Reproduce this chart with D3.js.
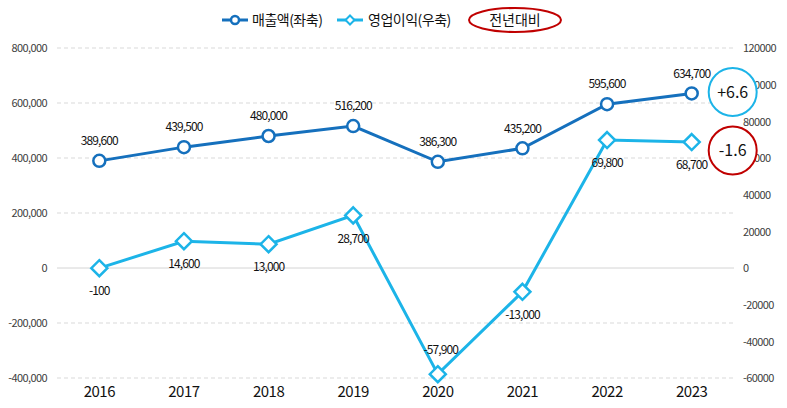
<!DOCTYPE html>
<html><head><meta charset="utf-8">
<script src="https://cdn.jsdelivr.net/npm/d3@7/dist/d3.min.js"></script>
<style>
body{margin:0;background:#fff;}
text{font-family:"Noto Sans CJK KR","Noto Sans",sans-serif;}
</style></head>
<body><svg id="c" width="787" height="408"></svg>
<script>
const years = ["2016","2017","2018","2019","2020","2021","2022","2023"];
const sales = [389600, 439500, 480000, 516200, 386300, 435200, 595600, 634700];
const profit = [-100, 14600, 13000, 28700, -57900, -13000, 69800, 68700];
const leftTicks = [-400000, -200000, 0, 200000, 400000, 600000, 800000];
const rightTicks = [-60000, -40000, -20000, 0, 20000, 40000, 60000, 80000, 100000, 120000];
const salesChange = "+6.6";
const profitChange = "-1.6";
const legendLabels = ["매출액(좌축)", "영업이익(우축)", "전년대비"];

const C1 = "#1570BD", C2 = "#1CB4E8", RED = "#C00000";
const svg = d3.select("#c");
const L = 57, R = 734, T = 48, B = 378;
const x = d3.scaleBand().domain(years).range([L, R]);
const yL = d3.scaleLinear().domain([-400000, 800000]).range([B, T]);
const yR = d3.scaleLinear().domain([-60000, 120000]).range([B, T]);
const cx = d => x(d) + x.bandwidth()/2;
const loc = d3.formatLocale({decimal:".", thousands:",", grouping:[3], currency:["",""], minus:"-"});
const fmt = loc.format(",");
const fmtR = loc.format("d");

// grid
svg.append("g").selectAll("line").data(leftTicks).join("line")
  .attr("x1", L).attr("x2", R).attr("y1", d=>yL(d)).attr("y2", d=>yL(d))
  .attr("stroke", d=>d===0?"#d4d4d4":"#d9d9d9").attr("stroke-width",1)
  .attr("stroke-dasharray", d=>d===0?null:"4,3");

// left axis
const la = svg.append("g").attr("transform",`translate(${L-10},0)`)
  .call(d3.axisLeft(yL).tickValues(leftTicks).tickFormat(fmt).tickSize(0).tickPadding(0));
la.select(".domain").remove();
la.selectAll("text").attr("font-size",11).attr("fill","#404040").attr("letter-spacing","-0.6").attr("dy","0.35em");

// right axis
const ra = svg.append("g").attr("transform",`translate(${R+9},0)`)
  .call(d3.axisRight(yR).tickValues(rightTicks).tickFormat(fmtR).tickSize(0).tickPadding(0));
ra.select(".domain").remove();
ra.selectAll("text").attr("font-size",11).attr("fill","#404040").attr("letter-spacing","-0.6").attr("dy","0.35em");

// x axis
const xa = svg.append("g").attr("transform",`translate(0,${B})`)
  .call(d3.axisBottom(x).tickSize(0).tickPadding(8));
xa.select(".domain").remove();
xa.selectAll("text").attr("font-size",15).attr("fill","#111").attr("letter-spacing","-0.5");

// lines
svg.append("path").datum(sales).attr("fill","none").attr("stroke",C1).attr("stroke-width",3)
  .attr("d", d3.line().x((d,i)=>cx(years[i])).y(d=>yL(d)));
svg.append("path").datum(profit).attr("fill","none").attr("stroke",C2).attr("stroke-width",3)
  .attr("d", d3.line().x((d,i)=>cx(years[i])).y(d=>yR(d)));

// markers
svg.append("g").selectAll("circle").data(sales).join("circle")
  .attr("cx",(d,i)=>cx(years[i])).attr("cy",d=>yL(d)).attr("r",6)
  .attr("fill","#fff").attr("stroke",C1).attr("stroke-width",2.5);
svg.append("g").selectAll("path").data(profit).join("path")
  .attr("transform",(d,i)=>`translate(${cx(years[i])},${yR(d)})`)
  .attr("d","M0,-8L8,0L0,8L-8,0Z")
  .attr("fill","#fff").attr("stroke",C2).attr("stroke-width",2.5);

// labels
svg.append("g").selectAll("text").data(sales).join("text")
  .attr("x",(d,i)=>cx(years[i])).attr("y",d=>yL(d)-20).attr("dy","0.35em")
  .attr("text-anchor","middle").attr("font-size",12).attr("letter-spacing","-0.9").attr("fill","#111")
  .text(d=>fmt(d));
svg.append("g").selectAll("text").data(profit).join("text")
  .attr("x",(d,i)=>cx(years[i]) + (i===4?3:0)).attr("y",(d,i)=>yR(d) + (i===4?-24:23)).attr("dy","0.35em")
  .attr("text-anchor","middle").attr("font-size",12).attr("letter-spacing","-0.9").attr("fill","#111")
  .text(d=>fmt(d));

// change annotations
const last = years.length-1;
const ax = cx(years[last]) + 41;
const ann = [
  {t: salesChange, y: yL(sales[last]) - 1.5, c: C2},
  {t: profitChange, y: yR(profit[last]) + 8.5, c: RED}
];
const ag = svg.append("g").selectAll("g").data(ann).join("g").attr("transform",d=>`translate(${ax},${d.y})`);
ag.append("circle").attr("r",24).attr("fill","#fff").attr("stroke",d=>d.c).attr("stroke-width",2);
ag.append("text").attr("text-anchor","middle").attr("dy","0.35em").attr("font-size",16).attr("fill","#111").text(d=>d.t);

// legend
const lg = svg.append("g");
lg.append("line").attr("x1",222).attr("x2",248).attr("y1",20).attr("y2",20).attr("stroke",C1).attr("stroke-width",3);
lg.append("circle").attr("cx",235).attr("cy",20).attr("r",4).attr("fill","#fff").attr("stroke",C1).attr("stroke-width",2.5);
lg.append("text").attr("x",252).attr("y",20).attr("dy","0.35em").attr("font-size",14).attr("letter-spacing","-0.5").attr("fill","#111").text(legendLabels[0]);
lg.append("line").attr("x1",337).attr("x2",363).attr("y1",20).attr("y2",20).attr("stroke",C2).attr("stroke-width",3);
lg.append("path").attr("transform","translate(350,20)").attr("d","M0,-4.5L4.5,0L0,4.5L-4.5,0Z").attr("fill","#fff").attr("stroke",C2).attr("stroke-width",2);
lg.append("text").attr("x",368).attr("y",20).attr("dy","0.35em").attr("font-size",14).attr("letter-spacing","-0.5").attr("fill","#111").text(legendLabels[1]);
lg.append("ellipse").attr("cx",515).attr("cy",20).attr("rx",46).attr("ry",12).attr("fill","none").attr("stroke",RED).attr("stroke-width",2);
lg.append("text").attr("x",515).attr("y",20).attr("dy","0.35em").attr("text-anchor","middle").attr("font-size",14).attr("fill","#111").text(legendLabels[2]);
</script></body></html>
